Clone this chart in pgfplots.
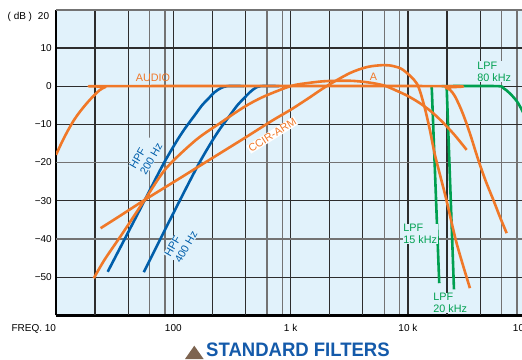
\documentclass[border=0pt]{standalone}
\usepackage{fontspec}
\setmainfont{Liberation Sans}
\usepackage{graphicx}
\usepackage{pgfplots}
\pgfplotsset{compat=1.18}
\definecolor{bgblue}{RGB}{225,242,251}
\definecolor{orng}{RGB}{240,120,40}
\definecolor{blu}{RGB}{0,94,170}
\definecolor{grn}{RGB}{0,160,80}
\definecolor{gridd}{RGB}{45,45,45}
\definecolor{gridg}{RGB}{115,115,115}
\definecolor{ttlblue}{RGB}{20,90,170}
\definecolor{brn}{RGB}{125,100,80}
\newcommand{\lab}{\fontsize{10.8}{12}\selectfont}
\newcommand{\tck}{\fontsize{10}{12}\selectfont}
\begin{document}
\begin{tikzpicture}[x=1pt,y=1pt]
\begin{axis}[
  at={(56pt,43.7pt)}, anchor=south west,
  scale only axis, width=469.2pt, height=305.6pt,
  xmode=log, xmin=10, xmax=100000, ymin=-60, ymax=20,
  axis background/.style={fill=bgblue},
  axis lines=left, axis line style={-, line width=2.8pt, black},
  major tick length=0pt, minor tick length=0pt,
  xtick={10,100,1000,10000,100000},
  xticklabels={\makebox[0pt][r]{FREQ. 10},100,1 k,10 k,100 k},
  minor xtick={63,85,630,850,6300,8500,63000,85000},
  extra x ticks={21.5,41.3,215,413,2150,4130,21500,41300},
  extra x tick labels={,,,,,,,},
  extra x tick style={grid=major},
  ytick={-50,-30,-10,0,10,20},
  yticklabels={−50,−30,−10,0,10,{}},
  extra y ticks={-40,-20},
  extra y tick labels={−40,−20},
  extra y tick style={grid=major, major grid style={gridg, line width=1.4pt}},
  xmajorgrids, ymajorgrids, xminorgrids,
  major grid style={gridd, line width=1.2pt},
  minor grid style={gridg, line width=1.4pt},
  xticklabel style={font=\tck, anchor=north, inner sep=0pt, yshift=-8.5pt, text height=7.2pt},
  yticklabel style={font=\tck, anchor=east, inner sep=0pt, xshift=-4pt},
  every axis plot/.append style={line width=2.6pt, line join=round},
]
% LPF filters (green)
\addplot[grn] coordinates {(15900,0) (16000,-1) (18500,-51.6)};
\addplot[grn] coordinates {(21300,0) (21450,-1) (24700,-53.2)};
\addplot[grn, smooth] coordinates {(19400,0) (57000,0) (65000,-0.5) (74000,-1.9) (85000,-4.0) (95000,-6.6) (105000,-9.5)};
% HPF filters (blue)
\addplot[blu, smooth] coordinates {(27.6,-48.6) (50,-33.3) (80,-21.1) (105,-14.8) (125,-11.2) (150,-7.9) (175,-5.1) (200,-3.2) (225,-1.6) (255,-0.5) (290,0) (400,0)};
\addplot[blu, smooth] coordinates {(56,-48.7) (100,-33.3) (160,-21.1) (210,-14.8) (250,-11.2) (300,-7.9) (350,-5.1) (400,-3.2) (450,-1.6) (500,-0.5) (560,0) (800,0)};
% A weighting
\addplot[orng, smooth] coordinates {(21,-50.3) (26,-45.4) (37,-38.5) (57,-29.8) (87,-21.5) (156,-14.1) (250,-9.7) (400,-5.5) (585,-2.8) (1000,0) (1400,0.8) (2000,1.3) (3200,1.4) (4500,1.0) (6200,0.2) (8000,-1.2) (10000,-2.6) (12700,-4.5) (16000,-6.8) (20000,-9.6) (25000,-12.8) (31700,-16.7)};
% CCIR-ARM
\addplot[orng, smooth] coordinates {(24,-37.2) (35,-34.0) (57,-29.8) (114,-24.1) (178,-20.4) (400,-13.7) (700,-9.0) (1000,-6.2) (1400,-3.3) (2030,0) (3200,3.4) (4500,5.0) (6200,5.5) (7600,5.2) (9140,4.2) (11900,0.7) (13700,-4.9) (15400,-11.5) (17000,-18.0) (21100,-29.3) (26000,-41.1) (33800,-52.9)};
% AUDIO
\addplot[orng, smooth] coordinates {(10,-18.0) (11.3,-14.5) (12.7,-11.5) (14.3,-8.8) (16,-6.7) (18.3,-4.5) (21,-2.5) (23.7,-1.0) (26.5,-0.2) (29,0) (19400,0) (21000,-0.4) (22900,-1.0) (25000,-2.5) (27800,-5.4) (30500,-8.5) (33800,-12.4) (39800,-19.3) (46000,-24.8) (53500,-29.8) (61000,-34.3) (69500,-38.5)};
% labels
\node[text=orng, font=\lab] at (axis cs:67,2.25) {AUDIO};
\node[text=orng, font=\lab] at (axis cs:5080,2.46) {A};
\node[text=orng, font=\lab, fill=white, inner sep=0.8pt, rotate=32] at (axis cs:698,-12.8) {CCIR-ARM};
\node[text=blu, font=\lab, fill=bgblue, inner sep=0.5pt, rotate=60, align=left] at (axis cs:58.5,-18.3) {HPF\\200 Hz};
\node[text=blu, font=\lab, fill=bgblue, inner sep=0.5pt, rotate=60, align=left] at (axis cs:116,-41.3) {HPF\\400 Hz};
\node[text=grn, font=\lab, fill=bgblue, inner sep=0.5pt, anchor=west, align=left] at (axis cs:9030,-38.7) {LPF\\15 kHz};
\node[text=grn, font=\lab, fill=bgblue, inner sep=0.5pt, anchor=west, align=left] at (axis cs:16270,-56.8) {LPF\\20 kHz};
\node[text=grn, font=\lab, fill=bgblue, inner sep=0.5pt, anchor=west, align=left] at (axis cs:38600,3.77) {LPF\\80 kHz};
\end{axis}
\draw[gridg, line width=1.8pt] (current axis.north west) -- (current axis.north east);
\node[anchor=east, inner sep=0pt, font=\tck] at ([xshift=-6.7pt,yshift=-7.3pt]current axis.north west) {(\hspace{3pt}dB\hspace{2.5pt})\hspace{6pt}20};
\fill[brn] (185pt,0pt) -- (194.3pt,13.3pt) -- (203.6pt,0pt) -- cycle;
\node[anchor=base west, inner sep=0pt, text=ttlblue, font=\bfseries\fontsize{19.5}{22}\selectfont] at (206pt,3pt) {\scalebox{0.95}[1]{STANDARD FILTERS}};
\pgfresetboundingbox
\path[use as bounding box] (0pt,0pt) rectangle (522pt,359pt);
\end{tikzpicture}
\end{document}
